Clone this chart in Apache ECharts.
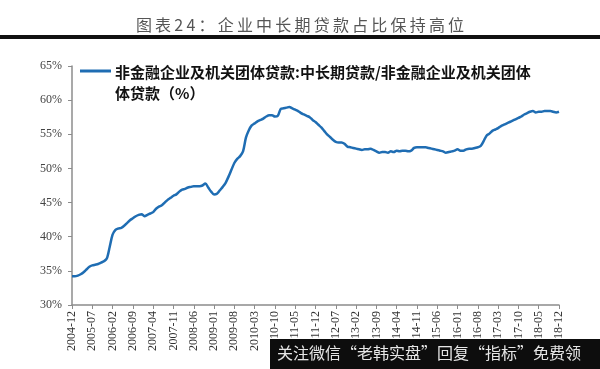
<!DOCTYPE html>
<html>
<head>
<meta charset="utf-8">
<script src="https://cdn.jsdelivr.net/npm/echarts@6/dist/echarts.min.js"></script>
<style>html,body{margin:0;padding:0;background:#fff;}#c{width:600px;height:369px;}</style>
</head>
<body>
<div id="c"></div>
<script>
// Monthly categories 2004-12 .. 2018-12
var startYear = 2004, startMonth = 12, monthCount = 169;
var categories = [];
for (var i = 0; i < monthCount; i++) {
  var m = startMonth - 1 + i;
  var y = startYear + Math.floor(m / 12);
  var mm = (m % 12) + 1;
  categories.push(y + '-' + (mm < 10 ? '0' + mm : mm));
}
// 非金融企业及机关团体贷款:中长期贷款/非金融企业及机关团体贷款 (%)
var ratioValues = [
  34.2, 34.2, 34.3, 34.5, 34.8, 35.2, 35.6, 35.8, 35.9, 36.0, 36.2, 36.4,
  36.8, 38.5, 40.3, 41.0, 41.2, 41.3, 41.6, 42.0, 42.4, 42.7, 43.0, 43.2,
  43.3, 43.0, 43.2, 43.4, 43.6, 44.1, 44.4, 44.6, 45.0, 45.4, 45.7, 46.0,
  46.2, 46.6, 46.9, 47.0, 47.2, 47.3, 47.4, 47.4, 47.4, 47.5, 47.8, 47.2,
  46.6, 46.2, 46.3, 46.8, 47.3, 47.9, 48.8, 49.8, 50.8, 51.4, 51.8, 52.5,
  54.5, 55.6, 56.3, 56.6, 56.9, 57.1, 57.3, 57.6, 57.8, 57.8, 57.6, 57.7,
  58.7, 58.8, 58.9, 59.0, 58.8, 58.6, 58.4, 58.1, 57.9, 57.7, 57.5, 57.1,
  56.8, 56.4, 56.0, 55.5, 55.0, 54.6, 54.2, 53.9, 53.8, 53.8, 53.6, 53.2,
  53.1, 53.0, 52.9, 52.8, 52.7, 52.8, 52.8, 52.9, 52.7, 52.5, 52.3, 52.4,
  52.4, 52.3, 52.5, 52.4, 52.6, 52.5, 52.6, 52.6, 52.5, 52.6, 53.0, 53.1,
  53.1, 53.1, 53.1, 53.0, 52.9, 52.8, 52.7, 52.6, 52.5, 52.3, 52.4, 52.5,
  52.6, 52.8, 52.6, 52.6, 52.8, 52.9, 52.9, 53.0, 53.1, 53.3, 54.0, 54.8,
  55.1, 55.5, 55.7, 55.9, 56.2, 56.4, 56.6, 56.8, 57.0, 57.2, 57.4, 57.6,
  57.9, 58.1, 58.3, 58.4, 58.2, 58.3, 58.3, 58.4, 58.4, 58.4, 58.3, 58.2,
  58.3
];
var yTicks = [30, 35, 40, 45, 50, 55, 60, 65];
var seriesName = '非金融企业及机关团体贷款:中长期贷款/非金融企业及机关团体贷款（%）';
var legendLine1 = '非金融企业及机关团体贷款:中长期贷款/非金融企业及机关团体';
var legendLine2 = '体贷款（%）';
var titleText = '图表24：企业中长期贷款占比保持高位';
var watermarkText = '关注微信“老韩实盘”回复“指标”免费领';

function spaced(s) { return s.split('').join('\u2009'); }

var chart = echarts.init(document.getElementById('c'), null, {renderer: 'canvas'});
chart.setOption({
  animation: false,
  backgroundColor: '#ffffff',
  grid: {left: 72, right: 41, top: 66, bottom: 64},
  xAxis: {
    type: 'category',
    data: categories,
    boundaryGap: false,
    axisLine: {lineStyle: {color: '#8c8c8c', width: 1.5}},
    axisTick: {alignWithLabel: true, interval: 6, length: 4, lineStyle: {color: '#8c8c8c'}},
    axisLabel: {
      interval: 6, rotate: 90, margin: 6,
      fontFamily: 'Liberation Serif', fontSize: 12, color: '#333'
    },
    splitLine: {show: false}
  },
  yAxis: {
    type: 'value',
    min: yTicks[0], max: yTicks[yTicks.length - 1], interval: 5,
    axisLine: {show: true, lineStyle: {color: '#8c8c8c', width: 1.5}},
    axisTick: {show: true, length: 4, lineStyle: {color: '#8c8c8c'}},
    axisLabel: {
      formatter: '{value}%', margin: 10,
      fontFamily: 'Liberation Serif', fontSize: 12, color: '#444'
    },
    splitLine: {show: false}
  },
  series: [{
    name: seriesName,
    type: 'line',
    data: ratioValues,
    showSymbol: false,
    smooth: 0.3,
    lineStyle: {color: '#1f6db3', width: 2.5},
    itemStyle: {color: '#1f6db3'}
  }],
  graphic: [
    {type: 'text', left: 'center', top: 17,
      style: {text: spaced(titleText), fontSize: 16, fill: '#555', fontFamily: 'Noto Sans CJK SC'}},
    {type: 'rect', shape: {x: 0, y: 35, width: 600, height: 4}, style: {fill: '#111'}},
    {type: 'line', shape: {x1: 80, y1: 71, x2: 111, y2: 71}, style: {stroke: '#1f6db3', lineWidth: 3}},
    {type: 'text', x: 115, y: 62,
      style: {text: legendLine1 + '\n' + legendLine2, fontSize: 15, fontWeight: 'bold',
        lineHeight: 21, fill: '#111', fontFamily: 'Noto Sans CJK SC'}},
    {type: 'rect', shape: {x: 270, y: 339, width: 330, height: 30}, style: {fill: '#0d0d0d'}, z: 100},
    {type: 'text', x: 277, y: 345, z: 101,
      style: {text: watermarkText, fontSize: 16, fill: '#e6e6e6', fontFamily: 'Noto Sans CJK SC'}}
  ]
});
</script>
</body>
</html>
